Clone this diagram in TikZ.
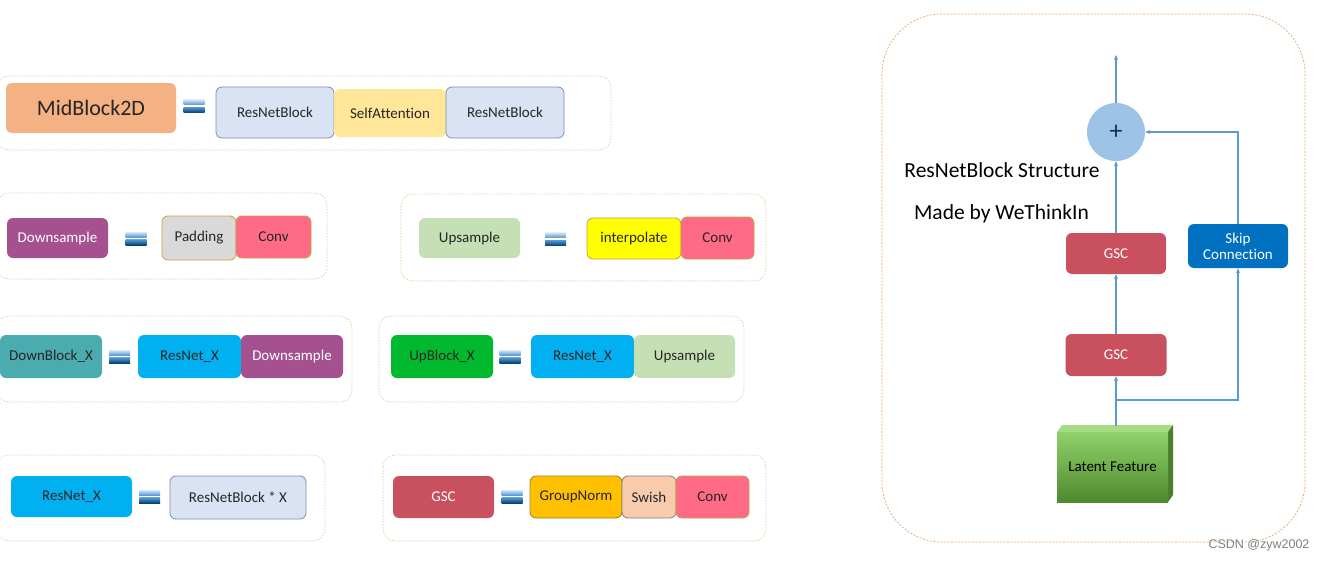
\documentclass[tikz,border=0pt]{standalone}
\usepackage{fontspec}
\setmainfont[Ligatures=NoCommon]{Carlito}
\newfontfamily\wmfont{Liberation Sans}
\usetikzlibrary{arrows.meta}
\definecolor{cMid}{HTML}{F4B183}
\definecolor{cRB}{HTML}{DAE3F3}
\definecolor{cRBd}{HTML}{7F8FA9}
\definecolor{cSA}{HTML}{FFE699}
\definecolor{cDS}{HTML}{A5518F}
\definecolor{cPad}{HTML}{D9D9D9}
\definecolor{cGold}{HTML}{C9A040}
\definecolor{cConv}{HTML}{FF6B87}
\definecolor{cUS}{HTML}{C5E0B4}
\definecolor{cInt}{HTML}{FFFF00}
\definecolor{cDB}{HTML}{4BACB0}
\definecolor{cRX}{HTML}{00B0F0}
\definecolor{cUB}{HTML}{00B92E}
\definecolor{cGSC}{HTML}{C9505F}
\definecolor{cGN}{HTML}{FFC000}
\definecolor{cSw}{HTML}{F8CBAD}
\definecolor{cSkip}{HTML}{0070C0}
\definecolor{cFrame}{HTML}{EBC89A}
\definecolor{cFrameR}{HTML}{E2A96E}
\definecolor{cLine}{HTML}{5B9BD5}
\definecolor{cPlus}{HTML}{9DC3E6}
\definecolor{cTxt}{HTML}{262626}
\definecolor{cLtop}{HTML}{A6DC84}
\definecolor{cLside}{HTML}{4A7F2C}
\definecolor{cLhi}{HTML}{8FD16A}
\definecolor{cLlo}{HTML}{4E8A2E}
\tikzset{
  blk/.style={rounded corners=6pt, inner sep=0pt, font=\fontsize{15}{18}\selectfont, text=cTxt},
  frm/.style={draw=cFrame, line width=0.7pt, dash pattern=on 1.5pt off 1.5pt, rounded corners=12pt},
  arr/.style={draw=cLine, line width=1.1pt, -{Stealth[length=5pt,width=4pt]}},
  ln/.style={draw=cLine, line width=1.1pt},
  eqs/.pic={
    \shade[top color=cPlus!40, bottom color=cLine] (-10.5,-6.5) rectangle (10.5,-1.5);
    \shade[top color=cLine, bottom color=cSkip!60!black] (-10.5,1) rectangle (10.5,6.5);
  }
}
\begin{document}
\begin{tikzpicture}[x=1pt,y=-1pt]
\fill[white] (0,0) rectangle (1325,562);
\useasboundingbox (0,0) rectangle (1325,562);

% ---------- frames ----------
\draw[frm] (-3,76) rectangle (611,150);
\draw[frm] (-3,193) rectangle (327,279);
\draw[frm] (401,194) rectangle (766,281);
\draw[frm] (-3,316) rectangle (352,402);
\draw[frm] (379,316) rectangle (744,402);
\draw[frm] (-3,455) rectangle (325,541);
\draw[frm] (383,455) rectangle (766,541);
\draw[draw=cFrameR, line width=0.7pt, dash pattern=on 2pt off 1.5pt, rounded corners=60pt] (882,14) rectangle (1305,542);

% ---------- row 1 ----------
\node[blk, fill=cMid, minimum width=170, minimum height=50, font=\fontsize{22}{26}\selectfont] (mid) at (91,108) {MidBlock2D};
\pic at (194,106) {eqs};
\node[blk, fill=cRB, draw=cRBd, line width=0.8pt, minimum width=118, minimum height=51] (rb1) at (275,112.5) {ResNetBlock};
\node[blk, fill=cSA, minimum width=112, minimum height=48] (sa) at (390,113) {SelfAttention};
\node[blk, fill=cRB, draw=cRBd, line width=0.8pt, minimum width=118, minimum height=51] (rb2) at (505,112.5) {ResNetBlock};

% ---------- row 2 ----------
\node[blk, fill=cDS, text=white, minimum width=101, minimum height=40] (ds1) at (57.5,238) {Downsample};
\pic at (136,238.5) {eqs};
\node[blk, fill=cPad, draw=cGold, line width=0.8pt, minimum width=74, minimum height=44] (pad) at (199,238) {Padding};
\node[blk, fill=cConv, draw=cGold, line width=0.8pt, minimum width=75, minimum height=42] (conv1) at (273.5,237) {Conv};
\node[blk, fill=cUS, minimum width=101, minimum height=40] (us1) at (469.5,238) {Upsample};
\pic at (555.5,239) {eqs};
\node[blk, fill=cInt, draw=cGold, line width=0.8pt, minimum width=94, minimum height=41] (interp) at (634,238.5) {interpolate};
\node[blk, fill=cConv, draw=cGold, line width=0.8pt, minimum width=73, minimum height=42] (conv2) at (717.5,238) {Conv};

% ---------- row 3 ----------
\node[blk, fill=cDB, minimum width=102, minimum height=43] (dbx) at (51,356.5) {DownBlock\_X};
\pic at (119.5,356.5) {eqs};
\node[blk, fill=cRX, minimum width=103, minimum height=43] (rx1) at (189.5,356.5) {ResNet\_X};
\node[blk, fill=cDS, text=white, minimum width=102, minimum height=43] (ds2) at (292,356.5) {Downsample};
\node[blk, fill=cUB, minimum width=102, minimum height=43] (ubx) at (442,356.5) {UpBlock\_X};
\pic at (510,356.5) {eqs};
\node[blk, fill=cRX, minimum width=103, minimum height=43] (rx2) at (582.5,356.5) {ResNet\_X};
\node[blk, fill=cUS, minimum width=101, minimum height=43] (us2) at (684.5,356.5) {Upsample};

% ---------- row 4 ----------
\node[blk, fill=cRX, minimum width=121, minimum height=41] (rx3) at (71.5,496.5) {ResNet\_X};
\pic at (149.5,496.5) {eqs};
\node[blk, fill=cRB, draw=cRBd, line width=0.8pt, minimum width=136, minimum height=43] (rbx) at (238,497.5) {ResNetBlock * X};
\node[blk, fill=cGSC, text=white, minimum width=101, minimum height=42] (gsc0) at (443.5,497) {GSC};
\pic at (512,496.5) {eqs};
\node[blk, fill=cGN, draw=cGold!80!black, line width=0.8pt, minimum width=92, minimum height=42] (gn) at (576,497) {GroupNorm};
\node[blk, fill=cSw, draw=gray, line width=0.8pt, minimum width=54, minimum height=42] (sw) at (649,497) {Swish};
\node[blk, fill=cConv, draw=cGold, line width=0.8pt, minimum width=73, minimum height=42] (conv3) at (712.5,497) {Conv};

% ---------- ResNetBlock structure ----------
\node[circle, fill=cPlus, minimum size=58, inner sep=0pt, text=cSkip!50!black, font=\fontsize{26}{28}\selectfont] (plus) at (1116,132) {+};
\node[font=\fontsize{21.5}{24}\selectfont, text=black] (title) at (1002,170) {ResNetBlock Structure};
\node[font=\fontsize{21.5}{24}\selectfont, text=black] (author) at (1001.5,214) {Made by WeThinkIn};
\node[blk, fill=cGSC, text=white, minimum width=100, minimum height=41] (gsc2) at (1116,253.5) {GSC};
\node[blk, fill=cSkip, text=white, minimum width=100, minimum height=44, align=center, font=\fontsize{15}{16}\selectfont] (skip) at (1238,246) {Skip\\Connection};
\node[blk, fill=cGSC, text=white, minimum width=101, minimum height=42] (gsc1) at (1116,355) {GSC};

% latent feature 3D box
\fill[cLtop] (1057,432) -- (1062,425) -- (1173,425) -- (1168,432) -- cycle;
\fill[cLside] (1168,432) -- (1173,425) -- (1173,495) -- (1168,502) -- cycle;
\shade[top color=cLhi, bottom color=cLlo] (1057,432) rectangle (1168,502);
\node[font=\fontsize{15}{18}\selectfont, text=black, minimum width=111, minimum height=70, inner sep=0pt] (lf) at (1112.5,467) {Latent Feature};
\coordinate (lftop) at (1116,426);
\coordinate (j) at (1116,400);
\coordinate (out) at (1116,55);

\draw[ln] (lftop) -- (j);
\draw[arr] (j) -- (gsc1.south);
\draw[arr] (j) -| (skip.south);
\draw[arr] (gsc1.north) -- (gsc2.south);
\draw[arr] (gsc2.north) -- (plus.south);
\draw[arr] (skip.north) |- (plus.east);
\draw[arr] (plus.north) -- (out);

\node[font=\wmfont\fontsize{12.5}{14}\selectfont, text=gray] (wm) at (1259,545) {CSDN @zyw2002};
\end{tikzpicture}
\end{document}
